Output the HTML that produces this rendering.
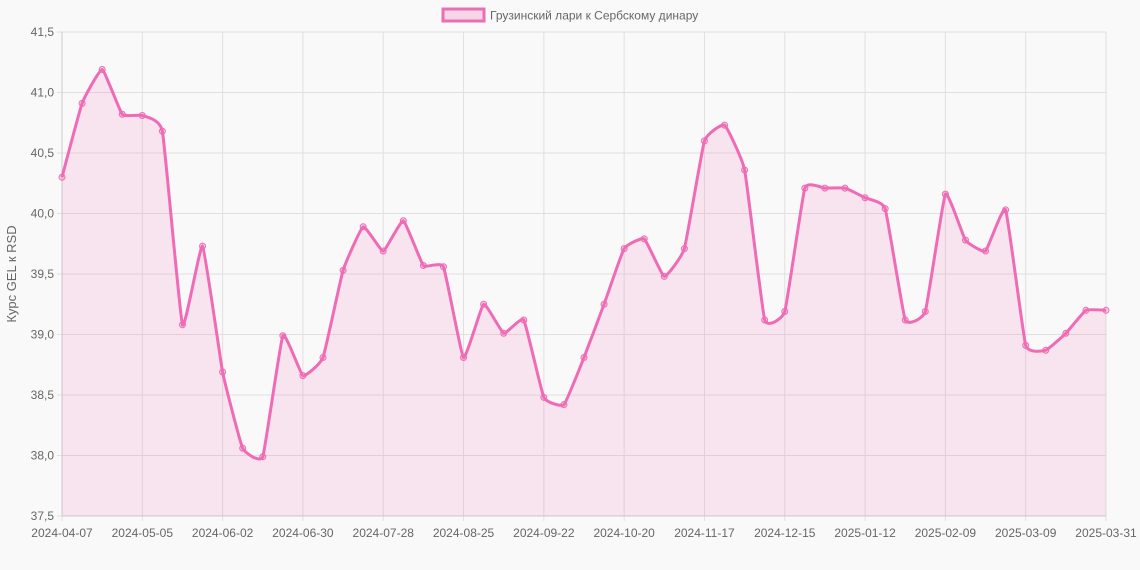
<!DOCTYPE html>
<html><head><meta charset="utf-8"><style>
html,body{margin:0;padding:0;background:#f9f9f9;}
svg{display:block;font-family:"Liberation Sans","DejaVu Sans",sans-serif;}
</style></head><body>
<svg id="c" width="1140" height="570" xmlns="http://www.w3.org/2000/svg">
<rect width="1140" height="570" fill="#f9f9f9"/>
<g id="grid"></g>
<path id="fill" fill="rgba(240,110,180,0.15)" stroke="none"/>
<path id="line" fill="none" stroke="#f06bb5" stroke-width="3"/>
<g id="pts"></g>
<g id="labels" font-size="12" fill="#666"></g>
<rect x="443" y="9" width="41" height="12" fill="rgba(240,110,180,0.25)" stroke="#f06bb5" stroke-width="3"/>
<text x="490" y="19.5" font-size="12" fill="#666">Грузинский лари к Сербскому динару</text>
<text transform="translate(16,274) rotate(-90)" text-anchor="middle" font-size="13" fill="#666">Курс GEL к RSD</text>
</svg>
<script>
var v=[40.3,40.91,41.19,40.82,40.81,40.68,39.08,39.73,38.69,38.06,37.99,38.99,38.66,38.81,39.53,39.89,39.69,39.94,39.57,39.56,38.81,39.25,39.01,39.12,38.48,38.42,38.81,39.25,39.71,39.79,39.48,39.71,40.6,40.73,40.36,39.12,39.19,40.21,40.21,40.21,40.13,40.04,39.12,39.19,40.16,39.78,39.69,40.03,38.91,38.87,39.01,39.2,39.2];
var L=62,R=1106,T=32,B=516,n=v.length,dx=(R-L)/(n-1);
function X(i){return L+i*dx}function Y(y){return B-(y-37.5)/4*(B-T)}
var ns="http://www.w3.org/2000/svg",g=document.getElementById('grid'),lb=document.getElementById('labels');
function el(p,t,a){var e=document.createElementNS(ns,t);for(var k in a)e.setAttribute(k,a[k]);p.appendChild(e);return e}
for(var k=0;k<=8;k++){var yv=37.5+k*0.5,y=Y(yv);el(g,'line',{x1:L-5,x2:R,y1:y,y2:y,stroke:'#e0e0e0'});var t=el(lb,'text',{x:L-8,y:y+4,'text-anchor':'end'});t.textContent=yv.toFixed(1).replace('.',',');}
var dates=['2024-04-07','2024-05-05','2024-06-02','2024-06-30','2024-07-28','2024-08-25','2024-09-22','2024-10-20','2024-11-17','2024-12-15','2025-01-12','2025-02-09','2025-03-09','2025-03-31'];
for(var k=0;k<dates.length;k++){var i=k<13?k*4:n-1,x=X(i);el(g,'line',{x1:x,x2:x,y1:T,y2:B+5,stroke:'#e0e0e0'});var t=el(lb,'text',{x:x,y:B+21,'text-anchor':'middle'});t.textContent=dates[k];}
el(g,'line',{x1:L,x2:L,y1:T,y2:B,stroke:'#ccc'});el(g,'line',{x1:L,x2:R,y1:B,y2:B,stroke:'#ccc'});
var P=v.map(function(y,i){return[X(i),Y(y)]}),d='M'+P[0][0]+','+P[0][1],tn=0.06;
for(var i=0;i<n-1;i++){var p0=P[Math.max(i-1,0)],p1=P[i],p2=P[i+1],p3=P[Math.min(i+2,n-1)];
var c1=[p1[0]+(p2[0]-p0[0])*tn,p1[1]+(p2[1]-p0[1])*tn],c2=[p2[0]-(p3[0]-p1[0])*tn,p2[1]-(p3[1]-p1[1])*tn];
d+=' C'+c1+' '+c2+' '+p2;}
document.getElementById('line').setAttribute('d',d);
document.getElementById('fill').setAttribute('d',d+' L'+R+','+B+' L'+L+','+B+'Z');
var pg=document.getElementById('pts');P.forEach(function(p){el(pg,'circle',{cx:p[0],cy:p[1],r:3,fill:'rgba(240,110,180,0.3)',stroke:'#f06bb5','stroke-width':1});});
</script>
</body></html>
